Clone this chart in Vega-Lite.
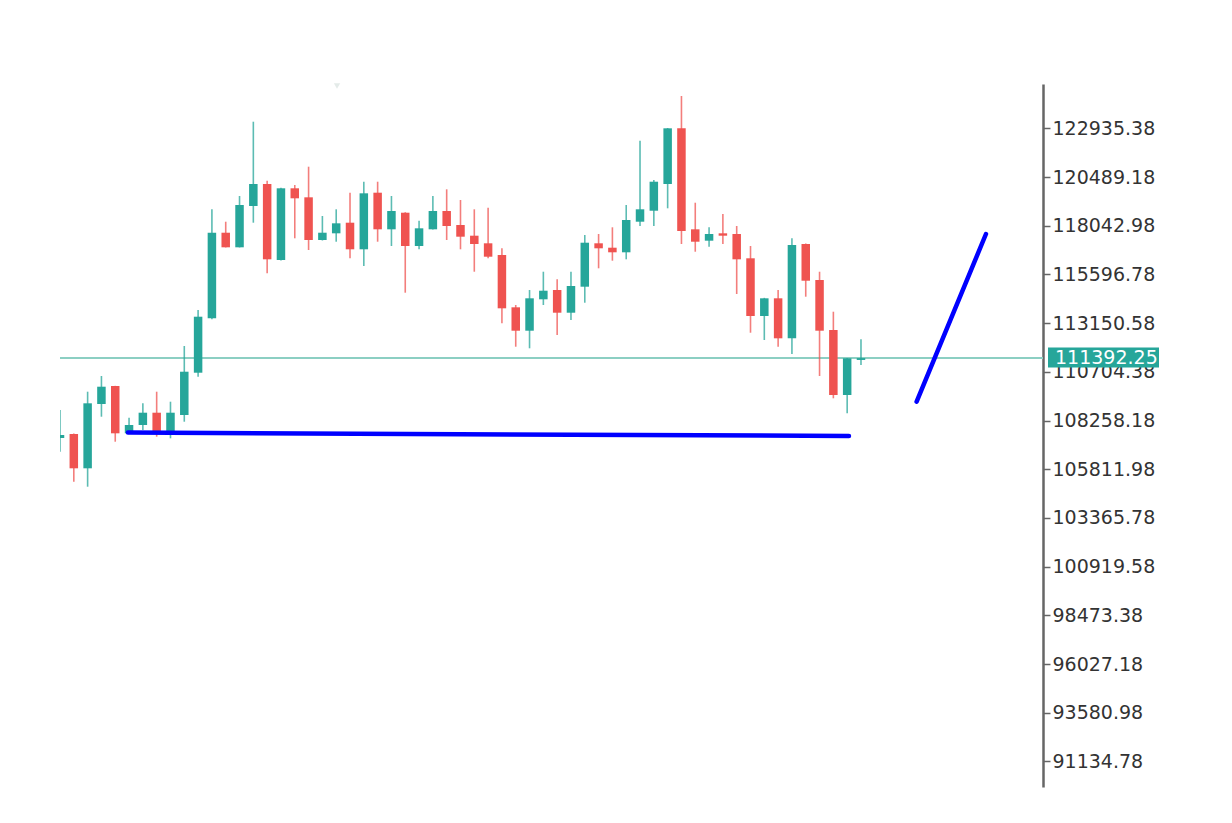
{
  "$schema": "https://vega.github.io/schema/vega-lite/v6.json",
  "width": 983,
  "height": 703,
  "autosize": {"type": "none"},
  "padding": {"left": 60, "top": 84, "right": 189, "bottom": 36},
  "background": "white",
  "config": {"view": {"stroke": null}, "font": "DejaVu Sans"},
  "datasets": {
    "candles": [
      {"i":0,"o":107379,"h":108786,"l":106691,"c":107530},
      {"i":1,"o":107580,"h":107600,"l":105184,"c":105857},
      {"i":2,"o":105857,"h":109705,"l":104933,"c":109122},
      {"i":3,"o":109087,"h":110493,"l":108449,"c":109956},
      {"i":4,"o":109991,"h":110000,"l":107193,"c":107615},
      {"i":5,"o":107615,"h":108399,"l":107600,"c":108032},
      {"i":6,"o":108032,"h":109122,"l":107781,"c":108650},
      {"i":7,"o":108650,"h":109705,"l":107445,"c":107696},
      {"i":8,"o":107696,"h":109203,"l":107364,"c":108650},
      {"i":9,"o":108534,"h":112000,"l":108198,"c":110709},
      {"i":10,"o":110659,"h":113809,"l":110458,"c":113472},
      {"i":11,"o":113392,"h":118867,"l":113350,"c":117691},
      {"i":12,"o":117691,"h":118244,"l":116950,"c":116958},
      {"i":13,"o":116958,"h":119535,"l":116950,"c":119083},
      {"i":14,"o":119033,"h":123267,"l":118194,"c":120138},
      {"i":15,"o":120138,"h":120303,"l":115652,"c":116355},
      {"i":16,"o":116320,"h":119950,"l":116300,"c":119922},
      {"i":17,"o":119922,"h":120087,"l":117410,"c":119419},
      {"i":18,"o":119469,"h":121007,"l":116822,"c":117325},
      {"i":19,"o":117325,"h":118530,"l":117300,"c":117691},
      {"i":20,"o":117661,"h":118867,"l":117239,"c":118163},
      {"i":21,"o":118194,"h":119701,"l":116406,"c":116858},
      {"i":22,"o":116858,"h":120253,"l":116019,"c":119670},
      {"i":23,"o":119701,"h":120253,"l":117239,"c":117862},
      {"i":24,"o":117862,"h":119535,"l":117023,"c":118781},
      {"i":25,"o":118696,"h":118720,"l":114678,"c":117023},
      {"i":26,"o":117023,"h":118294,"l":116858,"c":117912},
      {"i":27,"o":117862,"h":119535,"l":117850,"c":118781},
      {"i":28,"o":118781,"h":119871,"l":117325,"c":118028},
      {"i":29,"o":118078,"h":119334,"l":116858,"c":117491},
      {"i":30,"o":117541,"h":118867,"l":115732,"c":117124},
      {"i":31,"o":117159,"h":118947,"l":116406,"c":116486},
      {"i":32,"o":116571,"h":116908,"l":113141,"c":113894},
      {"i":33,"o":113944,"h":114060,"l":111965,"c":112769},
      {"i":34,"o":112769,"h":114813,"l":111885,"c":114396},
      {"i":35,"o":114346,"h":115732,"l":114060,"c":114778},
      {"i":36,"o":114813,"h":115351,"l":112553,"c":113673},
      {"i":37,"o":113673,"h":115732,"l":113306,"c":115014},
      {"i":38,"o":114979,"h":117576,"l":114175,"c":117189},
      {"i":39,"o":117159,"h":117626,"l":115903,"c":116908},
      {"i":40,"o":116938,"h":117963,"l":116285,"c":116707},
      {"i":41,"o":116707,"h":119083,"l":116355,"c":118329},
      {"i":42,"o":118244,"h":122312,"l":118028,"c":118867},
      {"i":43,"o":118796,"h":120338,"l":118028,"c":120253},
      {"i":44,"o":120138,"h":122950,"l":118917,"c":122935},
      {"i":45,"o":122935,"h":124558,"l":117124,"c":117777},
      {"i":46,"o":117862,"h":119198,"l":116737,"c":117239},
      {"i":47,"o":117290,"h":117963,"l":116988,"c":117626},
      {"i":48,"o":117661,"h":118631,"l":117124,"c":117541},
      {"i":49,"o":117626,"h":118028,"l":114612,"c":116355},
      {"i":50,"o":116406,"h":117023,"l":112668,"c":113507},
      {"i":51,"o":113507,"h":114420,"l":112302,"c":114396},
      {"i":52,"o":114396,"h":114813,"l":111965,"c":112387},
      {"i":53,"o":112387,"h":117410,"l":111599,"c":117074},
      {"i":54,"o":117124,"h":117150,"l":114477,"c":115280},
      {"i":55,"o":115316,"h":115732,"l":110493,"c":112769},
      {"i":56,"o":112804,"h":113723,"l":109373,"c":109539},
      {"i":57,"o":109539,"h":111400,"l":108620,"c":111383},
      {"i":58,"o":111300,"h":112337,"l":111046,"c":111392.25}
    ],
    "support": [
      {"i":4.92,"p":107650},
      {"i":57.13,"p":107480}
    ],
    "trend": [
      {"i":62.03,"p":109202},
      {"i":67.05,"p":117626}
    ],
    "price": [{"p":111392.25,"label":"111392.25"}],
    "marker": [{"i":20.06,"p":125161}]
  },
  "encoding": {
    "x": {"type": "quantitative", "scale": {"domain": [0, 71.18], "nice": false, "zero": false, "padding": 0}, "axis": null}
  },
  "layer": [
    {
      "data": {"name": "price"},
      "mark": {"type": "rule", "color": "#8ccfc3", "strokeWidth": 2},
      "encoding": {
        "y": {"field": "p", "type": "quantitative",
          "scale": {"domain": [89849, 125161], "nice": false, "zero": false},
          "axis": {
            "orient": "right",
            "values": [91134.78, 93580.98, 96027.18, 98473.38, 100919.58, 103365.78, 105811.98, 108258.18, 110704.38, 113150.58, 115596.78, 118042.98, 120489.18, 122935.38],
            "format": ".2f",
            "title": null,
            "grid": false,
            "domainColor": "#666666",
            "domainWidth": 2.5,
            "tickColor": "#666666",
            "tickWidth": 1.5,
            "tickSize": 7,
            "labelPadding": 2,
            "labelFont": "DejaVu Sans",
            "labelFontSize": 19,
            "labelColor": "#333333",
            "labelBaseline": "middle",
            "labelOverlap": false,
            "labelBound": false,
            "labelFlush": false
          }
        }
      }
    },
    {
      "data": {"name": "marker"},
      "mark": {"type": "point", "shape": "triangle-down", "filled": true, "color": "#d9e2e0", "size": 40, "yOffset": 2, "clip": false},
      "encoding": {
        "x": {"field": "i", "type": "quantitative"},
        "y": {"field": "p", "type": "quantitative"}
      }
    },
    {
      "data": {"name": "candles"},
      "mark": {"type": "rule", "strokeWidth": 1.6, "clip": true, "opacity": 0.75},
      "encoding": {
        "x": {"field": "i", "type": "quantitative"},
        "y": {"field": "l", "type": "quantitative"},
        "y2": {"field": "h"},
        "color": {"condition": {"test": "datum.o < datum.c", "value": "#26a69a"}, "value": "#ef5350"}
      }
    },
    {
      "data": {"name": "candles"},
      "mark": {"type": "bar", "size": 8.5, "clip": true},
      "encoding": {
        "x": {"field": "i", "type": "quantitative"},
        "y": {"field": "o", "type": "quantitative"},
        "y2": {"field": "c"},
        "color": {"condition": {"test": "datum.o < datum.c", "value": "#26a69a"}, "value": "#ef5350"}
      }
    },
    {
      "data": {"name": "support"},
      "mark": {"type": "line", "color": "#0000ff", "strokeWidth": 4.5, "strokeCap": "round"},
      "encoding": {
        "x": {"field": "i", "type": "quantitative"},
        "y": {"field": "p", "type": "quantitative"}
      }
    },
    {
      "data": {"name": "trend"},
      "mark": {"type": "line", "color": "#0000ff", "strokeWidth": 4.5, "strokeCap": "round"},
      "encoding": {
        "x": {"field": "i", "type": "quantitative"},
        "y": {"field": "p", "type": "quantitative"}
      }
    },
    {
      "data": {"name": "price"},
      "mark": {"type": "rect", "color": "#26a69a", "xOffset": 5, "x2Offset": 116, "yOffset": -10.5, "y2Offset": 9.5, "clip": false},
      "encoding": {
        "x": {"datum": 71.18, "type": "quantitative"},
        "x2": {"datum": 71.18},
        "y": {"field": "p", "type": "quantitative"},
        "y2": {"field": "p"}
      }
    },
    {
      "data": {"name": "price"},
      "mark": {"type": "text", "color": "white", "font": "DejaVu Sans", "fontSize": 19, "align": "left", "baseline": "middle", "dx": 12, "dy": 0, "clip": false},
      "encoding": {
        "x": {"datum": 71.18, "type": "quantitative"},
        "y": {"field": "p", "type": "quantitative"},
        "text": {"field": "label"}
      }
    }
  ]
}
